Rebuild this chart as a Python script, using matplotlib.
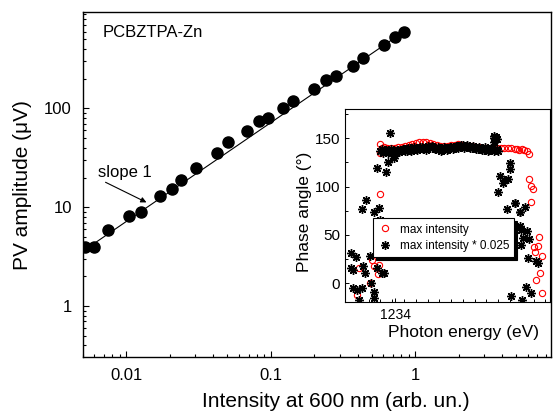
import numpy as np
import matplotlib.pyplot as plt
from matplotlib.ticker import LogLocator, MultipleLocator, NullFormatter, FixedLocator

plt.rcParams['font.family'] = ['Liberation Sans', 'DejaVu Sans']

# PV amplitude vs light intensity
intensity = [0.0052, 0.0060, 0.0075, 0.0104, 0.0126, 0.0171, 0.0206, 0.0239,
             0.0304, 0.0422, 0.0506, 0.068, 0.0828, 0.0956, 0.1207, 0.1416,
             0.200, 0.241, 0.283, 0.368, 0.432, 0.610, 0.727, 0.839]
pv_amp = [3.97, 3.97, 5.95, 8.1, 8.97, 13.0, 15.2, 19.0,
          25.2, 35.7, 45.7, 58.6, 73.9, 80.5, 101.6, 118.6,
          158, 192, 215, 272, 325, 440, 525, 600]

# slope 1 guide line
fit_x = [0.0061, 0.85]
fit_y = [4.39, 612]

# phase angle vs photon energy, max intensity
e_max = [1.600, 1.622, 1.714, 1.731, 1.748, 1.776, 1.785, 1.793, 1.799, 1.814, 1.800,
         1.83, 1.86, 1.89, 1.92, 1.95, 1.98, 2.01, 2.04, 2.07, 2.10, 2.13, 2.16,
         2.19, 2.22, 2.25, 2.28, 2.31, 2.34, 2.37, 2.40, 2.43, 2.46, 2.49, 2.52,
         2.55, 2.58, 2.61, 2.64, 2.67, 2.70, 2.73, 2.76, 2.79, 2.82, 2.85, 2.88,
         2.91, 2.94, 2.96, 2.98, 3.00, 3.02, 3.04, 3.06,
         3.058, 3.075, 3.096, 3.075, 3.144, 3.104, 3.138, 3.167, 3.115, 3.152,
         3.124, 3.173]
ph_max = [-12, 15.9, 0.3, 23.5, 17.3, 9.4, 18.3, 92.8, 143.6, 140.4, 135,
          141, 140, 139.5, 140, 140.5, 141, 142, 143, 144, 145, 146, 146.5,
          146, 145.5, 144.5, 143.5, 142.5, 142, 142.5, 143, 143.5, 144, 143.5, 142.5,
          142, 141.5, 141, 140.5, 140, 139.5, 139, 139.5, 140, 140, 139.5, 139.5,
          139.5, 139, 138.5, 138, 138.5, 137.5, 137, 134,
          107.4, 100.4, 97, 83.8, 47.8, 37.4, 38.8, 28.4, 31.8, 11,
          3.4, -10.4]

# phase angle vs photon energy, max intensity * 0.025
e_low = [1.879, 1.771, 1.850, 1.862, 1.919, 1.679, 1.643, 1.785, 1.748, 1.799,
         1.549, 1.594, 1.566, 1.656, 1.671, 1.771, 1.833, 1.814, 1.714, 1.566,
         1.600, 1.643, 1.720, 1.742, 1.748, 1.622, 1.549,
         1.800, 1.825, 1.850, 1.875, 1.900, 1.925, 1.950, 1.975, 2.000, 2.025,
         2.050, 2.075, 2.100, 2.125, 2.150, 2.175, 2.200, 2.225, 2.250, 2.275,
         2.300, 2.325, 2.350, 2.375, 2.400, 2.425, 2.450, 2.475, 2.500, 2.525,
         2.550, 2.575, 2.600, 2.625, 2.650, 2.675, 2.700, 2.725, 2.750, 2.775,
         2.800,
         1.812, 1.838, 1.862, 1.888, 1.912, 1.938, 1.962, 1.988, 2.012, 2.038,
         2.062, 2.088, 2.112, 2.138, 2.162, 2.188, 2.212, 2.238, 2.262, 2.288,
         2.312, 2.338, 2.362, 2.388, 2.412, 2.438, 2.462, 2.488, 2.512, 2.538,
         2.562, 2.588, 2.612, 2.638, 2.662, 2.688, 2.712, 2.738, 2.762, 2.788,
         2.762, 2.768, 2.791, 2.780, 2.762,
         2.896, 2.896, 2.819, 2.853, 2.882, 2.839, 2.802, 2.944, 2.876, 3.024,
         2.987, 2.996, 3.010, 3.058, 2.990, 3.053, 3.124, 3.138, 3.038, 3.075,
         2.910, 3.002, 2.938, 2.981, 2.981, 3.047]
ph_low = [155.2, 119.5, 115, 125.4, 130, 85.9, 77, 78, 73.4, 65.8,
          31.2, 27, 13.8, 17.3, 10.4, 15.6, 10.4, 10.4, 27.7, -5.2,
          -7, -5.2, 0, -8.7, -15.6, -17.4, 15.6,
          137, 135, 138, 136, 137, 135, 138, 137, 139, 137,
          140, 138, 140, 139, 141, 140, 142, 140, 141, 139,
          140, 138, 140, 139, 141, 140, 142, 141, 143, 141,
          142, 140, 141, 139, 140, 138, 139, 138, 140, 138,
          137,
          139, 138, 135, 139, 134, 138, 136, 139, 137, 140,
          137, 141, 138, 141, 139, 138, 141, 142, 139, 141,
          137, 141, 138, 141, 139, 142, 140, 143, 140, 143,
          140, 142, 139, 141, 138, 141, 137, 140, 137, 139,
          152.4, 150, 149, 151, 146.2,
          124.7, 118.5, 110.8, 106.7, 107.4, 104, 94.2, 83.2, 76.9, 79,
          74.1, 55.4, 46.8, 45.7, 39.8, 26, 22.5, 20.8, -3.5, -10.4,
          -12.9, -17.4, 83.2, 73.4, 58.8, 53.6]

fig = plt.figure(figsize=(5.53, 4.13), dpi=100)
ax = fig.add_axes([0.1501, 0.1356, 0.8463, 0.8346])

ax.plot(fit_x, fit_y, color='black', lw=0.8)
ax.plot(intensity, pv_amp, 'o', color='black', ms=8, zorder=3)

ax.set_xscale('log')
ax.set_yscale('log')
ax.set_xlim(0.005, 8.7)
ax.set_ylim(0.305, 940)
ax.set_xticks([0.01, 0.1, 1])
ax.set_xticklabels(['0.01', '0.1', '1'])
ax.set_yticks([1, 10, 100])
ax.set_yticklabels(['1', '10', '100'])
ax.xaxis.set_minor_locator(LogLocator(base=10, subs=np.arange(2, 10)))
ax.yaxis.set_minor_locator(LogLocator(base=10, subs=np.arange(2, 10)))
ax.xaxis.set_minor_formatter(NullFormatter())
ax.yaxis.set_minor_formatter(NullFormatter())
ax.tick_params(which='both', direction='in', labelsize=12, width=0.8)
ax.tick_params(which='major', length=4.5, pad=8)
ax.tick_params(which='minor', length=2.3)
for s in ax.spines.values():
    s.set_linewidth(1.0)

ax.set_xlabel('Intensity at 600 nm (arb. un.)', fontsize=15)
ax.xaxis.set_label_coords(0.5395, -0.102)
ax.set_ylabel('PV amplitude (μV)', fontsize=15)
ax.yaxis.set_label_coords(-0.108, 0.5)

ax.text(0.0427, 0.94, 'PCBZTPA-Zn', transform=ax.transAxes, fontsize=12,
        ha='left', va='center')
ax.text(0.00968, 22.6, 'slope 1', fontsize=12, ha='center', va='center')
ax.annotate('', xy=(0.01375, 11.2), xytext=(0.00716, 17.9),
            arrowprops=dict(arrowstyle='-|>', color='black', lw=0.8,
                            mutation_scale=8, shrinkA=0, shrinkB=0))

# inset: phase angle
ins = fig.add_axes([0.6239, 0.2676, 0.3698, 0.4678])
ins.plot(e_max, ph_max, 'o', mfc='none', mec='red', ms=4.5, mew=0.8, ls='none',
         label='max intensity')
ins.plot(e_low, ph_low, marker=(8, 2, 0), color='black', ms=6.3, mew=1.0, ls='none',
         label='max intensity * 0.025')
ins.set_xlim(1.5, 3.235)
ins.set_ylim(-20, 180)
ins.yaxis.set_major_locator(FixedLocator([0, 50, 100, 150]))
ins.yaxis.set_minor_locator(MultipleLocator(25))
ins.set_xticks([1.927])
ins.set_xticklabels(['1234'])
ins.xaxis.set_minor_locator(MultipleLocator(0.1))
ins.tick_params(which='both', direction='in', width=0.7)
ins.tick_params(which='major', length=3)
ins.tick_params(which='minor', length=2)
ins.tick_params(axis='y', labelsize=11)
ins.tick_params(axis='x', labelsize=10, pad=4)
for s in ins.spines.values():
    s.set_linewidth(0.8)
ins.set_xlabel('Photon energy (eV)', fontsize=12.5)
ins.xaxis.set_label_coords(0.577, -0.115)
ins.set_ylabel('Phase angle (°)', fontsize=12.5)
ins.yaxis.set_label_coords(-0.16, 0.47)

leg = ins.legend(loc='lower left', bbox_to_anchor=(0.137, 0.2355), fontsize=8.5,
                 frameon=True, fancybox=False, shadow={'color': 'black', 'alpha': 1},
                 borderaxespad=0, handlelength=1.2, handletextpad=0.6,
                 borderpad=0.45, labelspacing=0.35, framealpha=1)
leg.get_frame().set_edgecolor('black')
leg.get_frame().set_linewidth(0.8)

fig.savefig('out.png', dpi=100)
